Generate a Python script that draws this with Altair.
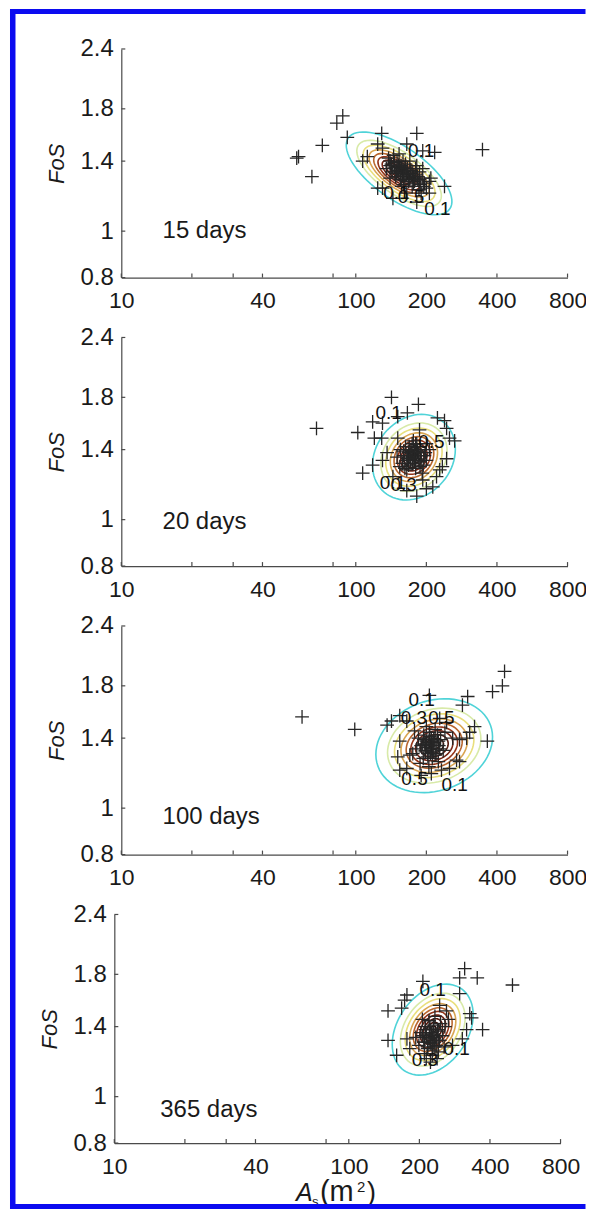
import math
import altair as alt
import pandas as pd

# ---------------- data ----------------
X_DOMAIN = [10, 800]
Y_DOMAIN = [0.8, 2.4]
X_LABELS = [10, 40, 100, 200, 400, 800]
X_TICKS = [10, 20, 30, 40, 80, 100, 200, 400, 800]
Y_TICKS = [0.8, 1, 1.4, 1.8, 2.4]
PANEL_LABELS = ["15 days", "20 days", "100 days", "365 days"]
PANEL_LABEL_X = [15, 15, 15, 15.7]
PANEL_LABEL_Y = [1.0, 0.99, 0.96, 0.94]

p1_x = [88, 83, 56, 57, 72, 65, 92, 129, 182, 347, 217, 239, 206, 107, 112, 124, 130, 124, 130, 165,
        182, 193, 209, 206, 182, 165, 144, 140, 154, 140, 165, 176, 149, 187, 157, 193,
        138, 142, 146, 150, 152, 156, 158, 160, 162, 166, 168, 170, 172, 175, 178, 180, 184, 188,
        192, 196, 200, 148, 135, 145, 155, 163, 174, 186, 153, 170, 190, 160, 143, 180,
        150, 157, 164, 171, 177, 183, 146, 159, 168, 187, 152, 175, 162, 195, 140]
p1_y = [1.74, 1.68, 1.42, 1.43, 1.51, 1.30, 1.57, 1.60, 1.60, 1.48, 1.46, 1.24, 1.27, 1.40, 1.43, 1.52, 1.49, 1.23, 1.23, 1.52,
        1.37, 1.35, 1.29, 1.20, 1.15, 1.20, 1.17, 1.29, 1.36, 1.40, 1.32, 1.26, 1.32, 1.33, 1.24, 1.47,
        1.42, 1.38, 1.36, 1.40, 1.34, 1.37, 1.31, 1.33, 1.29, 1.35, 1.30, 1.28, 1.32, 1.30, 1.27, 1.31, 1.28, 1.25,
        1.29, 1.26, 1.23, 1.30, 1.35, 1.44, 1.28, 1.38, 1.24, 1.22, 1.45, 1.40, 1.20, 1.25, 1.33, 1.35,
        1.33, 1.35, 1.31, 1.34, 1.29, 1.30, 1.39, 1.40, 1.27, 1.28, 1.37, 1.33, 1.36, 1.24, 1.37]

p2_x = [68, 102, 142, 185, 118, 130, 151, 166, 223, 239, 244, 264, 251, 120, 129, 136, 107, 118, 130, 244,
        234, 221, 228, 213, 200, 165, 182, 193, 154, 165, 187, 200, 182, 151, 144,
        155, 160, 163, 166, 168, 170, 172, 175, 177, 180, 183, 186, 190, 194, 198, 158, 174, 188,
        162, 180, 200, 150, 168, 192, 176, 206, 185, 171,
        165, 172, 178, 182, 169, 175, 185, 160, 190, 196, 174, 180, 166, 188, 178]
p2_y = [1.55, 1.52, 1.80, 1.74, 1.60, 1.59, 1.64, 1.67, 1.63, 1.61, 1.55, 1.46, 1.48, 1.48, 1.48, 1.38, 1.25, 1.30, 1.33, 1.34,
        1.29, 1.23, 1.27, 1.17, 1.16, 1.15, 1.12, 1.21, 1.29, 1.27, 1.54, 1.44, 1.44, 1.48, 1.23,
        1.40, 1.36, 1.42, 1.33, 1.38, 1.35, 1.40, 1.31, 1.37, 1.34, 1.39, 1.32, 1.36, 1.30, 1.38, 1.31, 1.44, 1.42,
        1.28, 1.28, 1.33, 1.35, 1.30, 1.25, 1.46, 1.40, 1.36, 1.33,
        1.36, 1.38, 1.33, 1.40, 1.42, 1.35, 1.38, 1.39, 1.33, 1.36, 1.31, 1.44, 1.34, 1.29, 1.39]

p3_x = [431, 422, 383, 300, 285, 364, 321, 306, 297, 206, 142, 154, 165, 136, 154, 151, 170, 154, 165, 269,
        277, 251, 259, 277, 228, 244, 59, 99,
        185, 190, 195, 198, 200, 203, 206, 208, 210, 213, 216, 220, 223, 226, 230, 194, 212, 182,
        236, 200, 218, 188, 205, 225, 178, 240, 198, 214, 175, 232, 210, 190,
        200, 205, 210, 215, 220, 207, 195, 225, 203, 218, 212, 198, 228, 192, 208]
p3_y = [1.93, 1.80, 1.75, 1.71, 1.64, 1.38, 1.48, 1.44, 1.40, 1.72, 1.52, 1.56, 1.52, 1.49, 1.38, 1.28, 1.29, 1.20, 1.21, 1.26,
        1.25, 1.21, 1.40, 1.39, 1.54, 1.51, 1.55, 1.46,
        1.40, 1.35, 1.42, 1.32, 1.38, 1.30, 1.44, 1.35, 1.40, 1.33, 1.37, 1.30, 1.42, 1.35, 1.39, 1.27, 1.27, 1.33,
        1.32, 1.48, 1.46, 1.24, 1.22, 1.25, 1.45, 1.44, 1.36, 1.31, 1.30, 1.20, 1.18, 1.17,
        1.34, 1.37, 1.33, 1.39, 1.35, 1.41, 1.39, 1.38, 1.28, 1.29, 1.36, 1.31, 1.33, 1.36, 1.30]

p4_x = [312, 297, 353, 499, 207, 177, 173, 147, 168, 297, 328, 334, 372, 318, 305, 147, 160, 177, 182, 261,
        244, 277,
        203, 209, 212, 214, 217, 221, 223, 225, 228, 231, 236, 239, 242, 246, 251, 210, 227, 199,
        257, 220, 233, 214, 241, 193, 266, 230, 206, 255, 223, 238,
        214, 220, 226, 231, 236, 222, 210, 240, 217, 233, 228, 206, 244, 212, 224]
p4_y = [1.85, 1.77, 1.77, 1.71, 1.74, 1.63, 1.59, 1.51, 1.53, 1.64, 1.49, 1.46, 1.38, 1.38, 1.32, 1.31, 1.22, 1.32, 1.26, 1.51,
        1.55, 1.28,
        1.36, 1.30, 1.40, 1.33, 1.27, 1.38, 1.30, 1.35, 1.25, 1.32, 1.28, 1.37, 1.31, 1.42, 1.34, 1.23, 1.22, 1.28,
        1.40, 1.44, 1.47, 1.20, 1.24, 1.33, 1.45, 1.41, 1.45, 1.27, 1.18, 1.20,
        1.35, 1.32, 1.36, 1.30, 1.34, 1.39, 1.30, 1.38, 1.26, 1.27, 1.33, 1.34, 1.31, 1.38, 1.29]

POINTS_X = [p1_x, p2_x, p3_x, p4_x]
POINTS_Y = [p1_y, p2_y, p3_y, p4_y]

# density-contour ellipses (centre, semi-axes in px, tilt in degrees) read per panel
ELL_CX = [153, 177, 216, 228]
ELL_CY = [1.32, 1.35, 1.35, 1.38]
ELL_A = [62, 46, 60, 50]
ELL_B = [26, 38, 45, 35]
ELL_ANG = [-35, 50, 20, 55]
CONTOUR_SCALE = [1.0, 0.8, 0.68, 0.57, 0.48, 0.40, 0.32, 0.24, 0.16, 0.08]
CONTOUR_COLOR = ["#4fd3d8", "#d8eaa8", "#e9df7c", "#d9a552", "#b8662e", "#933418",
                 "#742414", "#56180c", "#3a1008", "#240804"]

LBL_TEXT = [["0.1", "0.1", "0.1", "0.5"],
            ["0.1", "0.5", "0.1", "0.3"],
            ["0.1", "0.3", "0.5", "0.5", "0.1"],
            ["0.1", "0.1", "0.3"]]
LBL_X = [[190, 223, 149, 172],
         [138, 210, 144, 160],
         [191, 177, 232, 178, 264],
         [228, 288, 211]]
LBL_Y = [[1.47, 1.11, 1.20, 1.18],
         [1.67, 1.45, 1.19, 1.18],
         [1.68, 1.54, 1.54, 1.15, 1.12],
         [1.67, 1.26, 1.19]]

# ---------------- chart ----------------
W, H = 447, 229
PX_PER_DEC_X = W / math.log10(X_DOMAIN[1] / X_DOMAIN[0])
PX_PER_DEC_Y = H / math.log10(Y_DOMAIN[1] / Y_DOMAIN[0])
FONT = "Liberation Sans, Arial, Helvetica, sans-serif"
AXIS_COL = "#4a4a4a"
TXT_COL = "#1a1a1a"
ys = alt.Scale(type="log", domain=Y_DOMAIN, nice=False)


def contour_df(i):
    rows = []
    th = math.radians(ELL_ANG[i])
    n = 72
    for li, s in enumerate(CONTOUR_SCALE):
        for k in range(n + 1):
            t = 2 * math.pi * k / n
            u = s * ELL_A[i] * math.cos(t)
            v = s * ELL_B[i] * math.sin(t)
            px = u * math.cos(th) - v * math.sin(th)
            py = u * math.sin(th) + v * math.cos(th)
            rows.append({"x": ELL_CX[i] * 10 ** (px / PX_PER_DEC_X),
                         "y": ELL_CY[i] * 10 ** (py / PX_PER_DEC_Y),
                         "level": li, "k": k})
    return pd.DataFrame(rows)


def one(v=0):
    return pd.DataFrame({"t": [v]})


def panel(i, last=False):
    shift = 7 if last else 0      # bottom panel sits a few px further left in the figure
    xs = alt.Scale(type="log", domain=X_DOMAIN, nice=False, range=[-shift, W - shift])
    x_axis = alt.Axis(values=X_LABELS, format="d", title=None, ticks=False, tickSize=0,
                      labelPadding=12, labelFlush=False, labelOverlap=False, grid=False,
                      domainColor=AXIS_COL, domainWidth=1.2, labelFontSize=23,
                      labelColor=TXT_COL, labelFont=FONT)
    y_axis = alt.Axis(values=Y_TICKS, format="~g", title="FoS", ticks=False, tickSize=0,
                      labelPadding=8, labelFlush=False, labelOverlap=False, grid=False,
                      domainColor=AXIS_COL, domainWidth=1.2, labelFontSize=24,
                      labelColor=TXT_COL, labelFont=FONT, offset=shift,
                      titleFont=FONT, titleFontSize=22, titleFontStyle="italic",
                      titleFontWeight="normal", titleColor=TXT_COL,
                      titleX=-65, titleY=H / 2, titleAlign="center", titleBaseline="middle")

    cont = alt.Chart(contour_df(i)).mark_line(strokeWidth=1.6, interpolate="linear").encode(
        x=alt.X("x:Q", scale=xs, axis=x_axis),
        y=alt.Y("y:Q", scale=ys, axis=y_axis),
        detail="level:N",
        order="k:Q",
        color=alt.Color("level:N", scale=alt.Scale(domain=list(range(len(CONTOUR_SCALE))),
                                                   range=CONTOUR_COLOR), legend=None),
    )
    pts = alt.Chart(pd.DataFrame({"x": POINTS_X[i], "y": POINTS_Y[i]})).mark_point(
        shape="M-1,0H1M0,-1V1", size=190, strokeWidth=1.3, color="#262626",
        filled=False, opacity=1).encode(
        x=alt.X("x:Q", scale=xs), y=alt.Y("y:Q", scale=ys))
    lbl = alt.Chart(pd.DataFrame({"x": LBL_X[i], "y": LBL_Y[i], "t": LBL_TEXT[i]})).mark_text(
        fontSize=19, font=FONT, color="#111", align="center", baseline="middle").encode(
        x=alt.X("x:Q", scale=xs), y=alt.Y("y:Q", scale=ys), text="t:N")
    plab = alt.Chart(pd.DataFrame({"x": [PANEL_LABEL_X[i]], "y": [PANEL_LABEL_Y[i]],
                                   "t": [PANEL_LABELS[i]]})).mark_text(
        fontSize=24, font=FONT, color=TXT_COL, align="left", baseline="middle").encode(
        x=alt.X("x:Q", scale=xs), y=alt.Y("y:Q", scale=ys), text="t:N")
    xt = alt.Chart(pd.DataFrame({"x": X_TICKS})).mark_rule(color=AXIS_COL, strokeWidth=1.2).encode(
        x=alt.X("x:Q", scale=xs), y=alt.value(H), y2=alt.value(H - 4))
    yt = alt.Chart(pd.DataFrame({"y": Y_TICKS})).mark_rule(color=AXIS_COL, strokeWidth=1.2).encode(
        y=alt.Y("y:Q", scale=ys), x=alt.value(-shift), x2=alt.value(4 - shift))

    layers = [cont, pts, lbl, plab, xt, yt]
    if last:
        tstyle = dict(font=FONT, color=TXT_COL, align="left", baseline="alphabetic")
        layers += [
            alt.Chart(pd.DataFrame({"t": ["A"]})).mark_text(fontSize=25, fontStyle="italic", **tstyle).encode(
                text="t:N", x=alt.value(175), y=alt.value(287)),
            alt.Chart(pd.DataFrame({"t": ["s"]})).mark_text(fontSize=13, **tstyle).encode(
                text="t:N", x=alt.value(191), y=alt.value(292)),
            alt.Chart(pd.DataFrame({"t": ["(m"]})).mark_text(fontSize=29, **tstyle).encode(
                text="t:N", x=alt.value(199), y=alt.value(287)),
            alt.Chart(pd.DataFrame({"t": ["2"]})).mark_text(fontSize=15, **tstyle).encode(
                text="t:N", x=alt.value(236), y=alt.value(278)),
            alt.Chart(pd.DataFrame({"t": [")"]})).mark_text(fontSize=27, **tstyle).encode(
                text="t:N", x=alt.value(246), y=alt.value(287)),
        ]
        # blue frame of the figure (left, top, bottom edges), filled bars
        blue = "#0b0bf0"
        layers += [
            alt.Chart(one()).mark_rect(color=blue).encode(
                x=alt.value(-111.5), x2=alt.value(-106), y=alt.value(-907), y2=alt.value(295)),
            alt.Chart(one()).mark_rect(color=blue).encode(
                x=alt.value(-111.5), x2=alt.value(465), y=alt.value(-907), y2=alt.value(-902)),
            alt.Chart(one()).mark_rect(color=blue).encode(
                x=alt.value(-111.5), x2=alt.value(465), y=alt.value(290), y2=alt.value(295)),
        ]
    return alt.layer(*layers).properties(width=W, height=H)


PAD = {"left": 1.5, "top": 0, "right": -1.5, "bottom": 0}
chart = alt.vconcat(*[panel(i, last=(i == 3)) for i in range(4)], spacing=60, bounds="flush",
                    padding=PAD)
chart = chart.configure(padding=PAD, background="white").configure_view(strokeWidth=0)

chart.save("out.html", embed_options={"renderer": "svg", "actions": False})
